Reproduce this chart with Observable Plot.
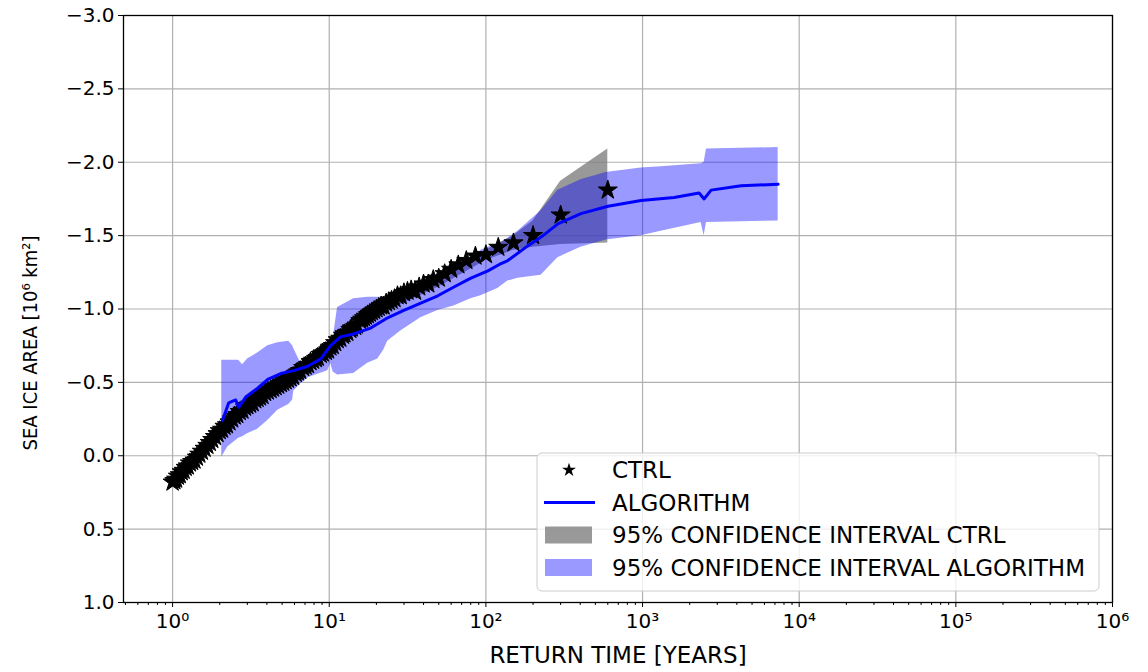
<!DOCTYPE html>
<html>
<head>
<meta charset="utf-8">
<script src="https://cdn.jsdelivr.net/npm/d3@7"></script>
<script src="https://cdn.jsdelivr.net/npm/@observablehq/plot@0.6"></script>
<style>
  html, body { margin: 0; padding: 0; background: white; }
  #chart { width: 1148px; height: 672px; overflow: hidden; }
</style>
</head>
<body>
<div id="chart"></div>
<script>
// ---------------- DATA ----------------
// CTRL: empirical return times (years) and sea ice area anomaly (10^6 km^2)
const ctrlT = [1, 1.026, 1.053, 1.081, 1.111, 1.143, 1.176, 1.212, 1.25, 1.29, 1.333, 1.379, 1.429, 1.481, 1.538, 1.6, 1.667, 1.727, 1.791, 1.863, 1.935, 2.0, 2.069, 2.143, 2.222, 2.308, 2.4, 2.49, 2.586, 2.685, 2.791, 2.899, 3, 3.125, 3.243, 3.371, 3.488, 3.614, 3.75, 3.896, 4.054, 4.225, 4.38, 4.545, 4.724, 4.918, 5.085, 5.263, 5.455, 5.66, 5.882, 6.122, 6.316, 6.522, 6.818, 7.059, 7.317, 7.595, 7.895, 8.219, 8.451, 8.824, 9.091, 9.524, 9.836, 10.17, 10.53, 10.91, 11.32, 11.76, 12.24, 12.5, 13.04, 13.64, 13.95, 14.63, 15, 15.79, 16.22, 16.67, 17.14, 17.65, 18.18, 18.75, 19.35, 20, 20.69, 21.43, 22.22, 23.08, 24, 25, 26.09, 27.27, 28.57, 30, 31.58, 33.33, 35.29, 37.5, 40, 42.86, 46.15, 50, 54.55, 60, 66.67, 75, 85.71, 100, 120, 150, 200, 300, 600];
const ctrlV = [0.18, 0.17, 0.16, 0.14, 0.13, 0.11, 0.10, 0.08, 0.07, 0.05, 0.04, 0.03, 0.01, -0.01, -0.03, -0.05, -0.07, -0.09, -0.11, -0.13, -0.15, -0.17, -0.18, -0.20, -0.21, -0.23, -0.25, -0.27, -0.28, -0.30, -0.31, -0.33, -0.34, -0.35, -0.36, -0.38, -0.39, -0.40, -0.41, -0.43, -0.44, -0.45, -0.46, -0.47, -0.48, -0.49, -0.50, -0.51, -0.52, -0.53, -0.54, -0.56, -0.57, -0.58, -0.60, -0.61, -0.62, -0.64, -0.65, -0.66, -0.67, -0.69, -0.70, -0.71, -0.72, -0.74, -0.75, -0.77, -0.79, -0.80, -0.82, -0.83, -0.84, -0.86, -0.87, -0.88, -0.89, -0.92, -0.93, -0.94, -0.95, -0.96, -0.97, -0.98, -0.99, -1.00, -1.01, -1.02, -1.02, -1.04, -1.05, -1.06, -1.07, -1.09, -1.09, -1.11, -1.12, -1.13, -1.12, -1.15, -1.17, -1.17, -1.20, -1.21, -1.24, -1.27, -1.30, -1.33, -1.36, -1.37, -1.42, -1.45, -1.50, -1.64, -1.81];

// 95% confidence interval CTRL
const ciCtrlT  = [1, 2, 5, 10, 20, 50, 100, 150, 200, 300, 600];
const ciCtrlLo = [0.20, -0.13, -0.46, -0.69, -0.95, -1.15, -1.33, -1.40, -1.42, -1.44, -1.45];
const ciCtrlHi = [0.15, -0.20, -0.53, -0.77, -1.03, -1.24, -1.40, -1.50, -1.60, -1.87, -2.09];

// ALGORITHM estimate
const algT = [2.08, 2.28, 2.53, 2.64, 2.93, 3.49, 4.05, 4.9, 5.93, 7.29, 8.83, 10.2, 11.8, 14.3, 18.4, 23.6, 29.9, 38.4, 49.3, 62.5, 80.2, 103, 125, 138, 185, 225, 288, 404, 602, 978, 1589, 2296, 2473, 2741, 4256, 7340];
const algV = [-0.24, -0.36, -0.38, -0.33, -0.40, -0.46, -0.52, -0.56, -0.58, -0.61, -0.66, -0.75, -0.81, -0.83, -0.87, -0.94, -0.99, -1.04, -1.09, -1.15, -1.21, -1.26, -1.31, -1.33, -1.43, -1.49, -1.58, -1.65, -1.70, -1.74, -1.76, -1.79, -1.75, -1.81, -1.84, -1.85];

// 95% confidence interval ALGORITHM
const ciAlgT  = [2.06, 2.25, 2.64, 2.8, 3.01, 3.49, 4.05, 4.69, 5.51, 5.84, 5.93, 6.58, 7.29, 8.2, 9.78, 10.2, 10.6, 11.3, 14.3, 17.6, 20.4, 22.3, 23.6, 28.6, 38.4, 49.3, 62.5, 80.2, 93, 103, 119, 138, 160, 225, 288, 404, 584, 978, 1313, 2364, 2473, 2560, 7340];
const ciAlgLo = [0.01, -0.06, -0.12, -0.13, -0.15, -0.18, -0.24, -0.31, -0.35, -0.38, -0.44, -0.49, -0.53, -0.55, -0.58, -0.63, -0.57, -0.55, -0.56, -0.63, -0.66, -0.72, -0.78, -0.85, -0.94, -0.99, -1.02, -1.07, -1.09, -1.11, -1.14, -1.19, -1.21, -1.23, -1.35, -1.42, -1.47, -1.50, -1.53, -1.59, -1.50, -1.59, -1.60];
const ciAlgHi = [-0.65, -0.65, -0.65, -0.62, -0.66, -0.70, -0.75, -0.77, -0.78, -0.75, -0.73, -0.63, -0.60, -0.65, -0.70, -0.72, -0.80, -1.01, -1.07, -1.08, -1.08, -1.08, -1.09, -1.10, -1.15, -1.19, -1.25, -1.33, -1.40, -1.42, -1.44, -1.48, -1.53, -1.67, -1.81, -1.88, -1.93, -1.96, -1.97, -1.99, -2.00, -2.09, -2.10];

// Axis ticks and labels
const xMajor = [1, 10, 100, 1000, 10000, 100000, 1000000];
const yTicks = [-3, -2.5, -2, -1.5, -1, -0.5, 0, 0.5, 1];
const xLabel = "RETURN TIME [YEARS]";
const yLabel = "SEA ICE AREA [10⁶ km²]";
const legendLabels = ["CTRL", "ALGORITHM", "95% CONFIDENCE INTERVAL CTRL", "95% CONFIDENCE INTERVAL ALGORITHM"];

// ---------------- TABLES ----------------
const ctrl = ctrlT.map((t, i) => ({t, v: ctrlV[i]}));
const ciCtrl = ciCtrlT.map((t, i) => ({t, lo: ciCtrlLo[i], hi: ciCtrlHi[i]}));
const alg = algT.map((t, i) => ({t, v: algV[i]}));
const ciAlg = ciAlgT.map((t, i) => ({t, lo: ciAlgLo[i], hi: ciAlgHi[i]}));

const xMinor = [];
for (let e = -1; e < 6; e++) for (let m = 2; m <= 9; m++) {
  const v = m * Math.pow(10, e);
  if (v >= 0.486 && v <= 1e6) xMinor.push(v);
}
const sup = ["⁰", "¹", "²", "³", "⁴", "⁵", "⁶"];
const fmtX = d => "10" + sup[Math.round(Math.log10(d))];
const fmtY = d => (d < 0 ? "−" : "") + Math.abs(d).toFixed(1);

const font = "DejaVu Sans";

const chart = Plot.plot({
  width: 1148,
  height: 672,
  marginLeft: 123,
  marginRight: 36,
  marginTop: 15,
  marginBottom: 70,
  style: {fontFamily: font, fontSize: "20px", background: "white", color: "black"},
  x: {type: "log", domain: [0.486, 1e6]},
  y: {domain: [1, -3]},
  marks: [
    Plot.gridX(xMajor, {stroke: "#b0b0b0", strokeOpacity: 1, strokeWidth: 1.2}),
    Plot.gridY(yTicks, {stroke: "#b0b0b0", strokeOpacity: 1, strokeWidth: 1.2}),
    Plot.areaY(ciCtrl, {x: "t", y1: "lo", y2: "hi", fill: "gray", fillOpacity: 0.8}),
    Plot.areaY(ciAlg, {x: "t", y1: "lo", y2: "hi", fill: "blue", fillOpacity: 0.4}),
    Plot.dot(ctrl, {x: "t", y: "v", symbol: "star", r: 6, fill: "black", stroke: "black", strokeWidth: 1}),
    Plot.line(alg, {x: "t", y: "v", stroke: "blue", strokeWidth: 3}),
    Plot.frame({stroke: "black", strokeWidth: 1.3}),
    Plot.axisX({ticks: xMinor, tickFormat: () => "", tickSize: 3, label: null, anchor: "bottom"}),
    Plot.axisX({ticks: xMajor, tickFormat: fmtX, tickSize: 5, tickPadding: 6, fontSize: 20, label: null, anchor: "bottom"}),
    Plot.axisY({ticks: yTicks, tickFormat: fmtY, tickSize: 5, tickPadding: 4, fontSize: 20, label: null, anchor: "left"}),
    Plot.text([xLabel], {frameAnchor: "bottom", dy: 60, fontSize: 23, textAnchor: "middle", text: d => d}),
    Plot.text([yLabel], {frameAnchor: "left", rotate: -90, dx: -93, dy: 34, fontSize: 20, fontFamily: "DejaVu Sans Condensed", textAnchor: "middle", text: d => d})
  ]
});
document.getElementById("chart").appendChild(chart);

// ---------------- LEGEND ----------------
const svg = d3.select(chart);
const lg = svg.append("g").attr("font-family", font).attr("font-size", 23).attr("text-anchor", "start");
lg.append("rect").attr("x", 537).attr("y", 453).attr("width", 562).attr("height", 138)
  .attr("rx", 5).attr("fill", "white").attr("fill-opacity", 0.8).attr("stroke", "#cccccc");
legendLabels.forEach((label, i) => {
  const cy = 470 + i * 32.5;
  if (i === 0) {
    lg.append("path").attr("d", d3.symbol(d3.symbolStar, 60)()).attr("transform", `translate(569,${cy})`).attr("fill", "black");
  } else if (i === 1) {
    lg.append("line").attr("x1", 544).attr("x2", 595).attr("y1", cy).attr("y2", cy).attr("stroke", "blue").attr("stroke-width", 3);
  } else {
    lg.append("rect").attr("x", 545).attr("y", cy - 8.5).attr("width", 47).attr("height", 17)
      .attr("fill", i === 2 ? "gray" : "blue").attr("fill-opacity", i === 2 ? 0.8 : 0.4);
  }
  lg.append("text").attr("x", 612).attr("y", cy).attr("dy", "0.35em").attr("fill", "black").text(label);
});
</script>
</body>
</html>
